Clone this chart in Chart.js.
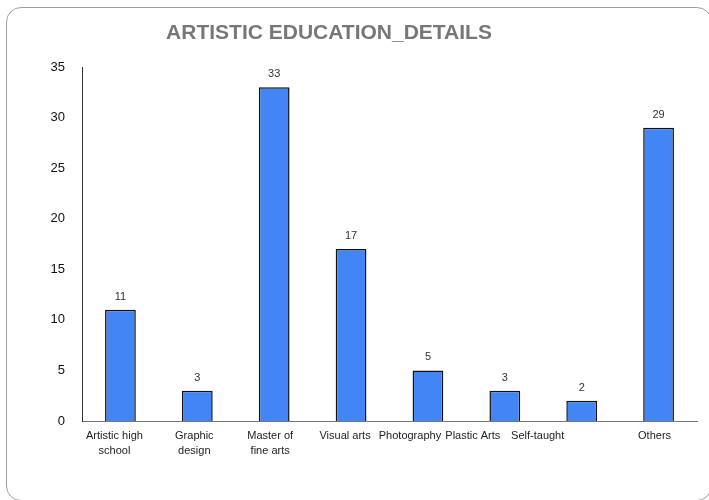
<!DOCTYPE html>
<html>
<head>
<meta charset="utf-8">
<script src="https://cdn.jsdelivr.net/npm/chart.js@4.4.0/dist/chart.umd.min.js"></script>
<style>
  html, body { margin: 0; padding: 0; background: #fff; }
  #wrap { position: relative; width: 709px; height: 500px; overflow: hidden; }
  #frame {
    position: absolute; left: 6px; top: 7px; width: 704px; height: 492px;
    border: 1px solid #a0a0a0; border-radius: 15px;
  }
  #myChart { position: absolute; left: 0; top: 0; }
</style>
</head>
<body>
<div id="wrap">
  <div id="frame"></div>
  <canvas id="myChart" width="709" height="500"></canvas>
</div>
<script>
// chart data
var chartTitle = 'ARTISTIC EDUCATION_DETAILS';
var categories = [
  ['Artistic high', 'school'],
  ['Graphic', 'design'],
  ['Master of', 'fine arts'],
  'Visual arts',
  'Photography',
  'Plastic Arts',
  'Self-taught',
  'Others'
];
var counts = [11, 3, 33, 17, 5, 3, 2, 29];
var yTicks = [0, 5, 10, 15, 20, 25, 30, 35];

// small horizontal nudges for the category labels
var labelShift = [-6, -3, -4, -6, -18, -32, -44, -4];

var FONT = 'Arial, "Liberation Sans", sans-serif';

// title, drawn a bit left of centre
var titlePlugin = {
  id: 'sheetTitle',
  afterDraw: function (chart) {
    var ctx = chart.ctx;
    ctx.save();
    ctx.font = 'bold 21px ' + FONT;
    ctx.fillStyle = '#777';
    ctx.textAlign = 'center';
    ctx.textBaseline = 'middle';
    ctx.fillText(chartTitle, 329, 33);
    ctx.restore();
  }
};

// value above each bar
var valuePlugin = {
  id: 'barValues',
  afterDatasetsDraw: function (chart) {
    var ctx = chart.ctx;
    var meta = chart.getDatasetMeta(0);
    ctx.save();
    ctx.font = '11px ' + FONT;
    ctx.fillStyle = '#333';
    ctx.textAlign = 'center';
    ctx.textBaseline = 'middle';
    meta.data.forEach(function (bar, i) {
      ctx.fillText(String(counts[i]), bar.x, bar.y - 13);
    });
    ctx.restore();
  }
};

// category labels under the x axis
var xLabelPlugin = {
  id: 'xLabels',
  afterDraw: function (chart) {
    var ctx = chart.ctx;
    var xs = chart.scales.x;
    var top = chart.chartArea.bottom;
    ctx.save();
    ctx.font = '11px ' + FONT;
    ctx.fillStyle = '#222';
    ctx.textAlign = 'center';
    ctx.textBaseline = 'middle';
    categories.forEach(function (lab, i) {
      var x = xs.getPixelForValue(i) + labelShift[i];
      var lines = Array.isArray(lab) ? lab : [lab];
      lines.forEach(function (line, j) {
        ctx.fillText(line, x, top + 15 + j * 15);
      });
    });
    ctx.restore();
  }
};

var ctx = document.getElementById('myChart').getContext('2d');
var myChart = new Chart(ctx, {
  type: 'bar',
  data: {
    labels: categories,
    datasets: [{
      data: counts,
      backgroundColor: '#4285f4',
      borderColor: '#111',
      borderWidth: 1.5,
      categoryPercentage: 1,
      barPercentage: 0.4
    }]
  },
  options: {
    responsive: false,
    animation: false,
    layout: { padding: { top: 67, right: 12, bottom: 0, left: 0 } },
    plugins: {
      legend: { display: false },
      title: { display: false },
      tooltip: { enabled: false }
    },
    scales: {
      x: {
        grid: { display: false, drawTicks: false },
        border: { display: true, color: '#777', width: 1 },
        ticks: { display: false },
        afterFit: function (scale) { scale.height = 79; }
      },
      y: {
        min: 0,
        max: 35,
        afterBuildTicks: function (scale) {
          scale.ticks = yTicks.map(function (v) { return { value: v }; });
        },
        grid: { display: false, drawTicks: false },
        border: { display: true, color: '#333', width: 1 },
        ticks: {
          padding: 17,
          color: '#111',
          font: { family: FONT, size: 13 }
        },
        afterFit: function (scale) { scale.width = 82; }
      }
    }
  },
  plugins: [titlePlugin, valuePlugin, xLabelPlugin]
});
</script>
</body>
</html>
